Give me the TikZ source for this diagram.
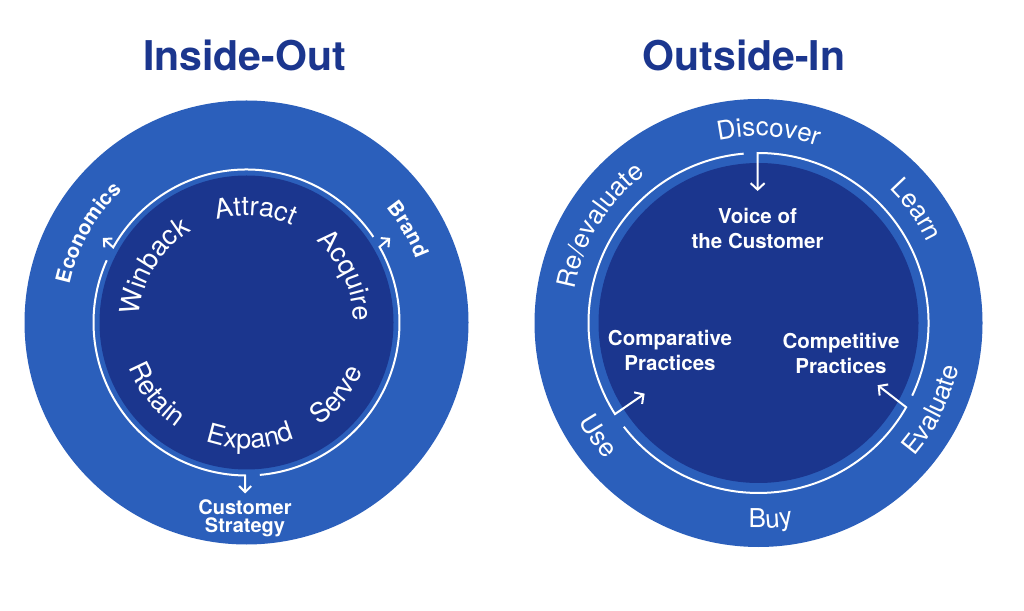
\documentclass[tikz,border=0pt]{standalone}
\usepackage{fontspec}
\setmainfont{TeX Gyre Heros}
\usetikzlibrary{decorations.text,arrows.meta}
\definecolor{ringblue}{RGB}{43,95,187}
\definecolor{coreblue}{RGB}{27,54,142}
\definecolor{titleblue}{RGB}{27,54,142}
\newcommand{\ringfont}{\fontsize{26}{30}\selectfont}
\newcommand{\corefont}{\fontsize{27}{30}\selectfont}
\newcommand{\lblfont}{\bfseries\fontsize{20.5}{22}\selectfont}
% text read clockwise, letter tops outward
\newcommand{\cwtext}[5]{\path[decorate,decoration={text along path,text align=center,text={|#5\color{white}|#4}}]
  (#1) ++({#2+80}:#3pt) arc[start angle={#2+80},end angle={#2-80},radius=#3pt];}
% text read counter-clockwise, letter tops inward
\newcommand{\ccwtext}[5]{\path[decorate,decoration={text along path,text align=center,text={|#5\color{white}|#4}}]
  (#1) ++({#2-80}:#3pt) arc[start angle={#2-80},end angle={#2+80},radius=#3pt];}
\tikzset{
  wline/.style={white,line width=2pt},
  warrowS/.style={wline,-{Straight Barb[length=6pt,width=12pt]}},
  warrowL/.style={wline,-{Straight Barb[length=6.5pt,width=14pt]}},
  title/.style={text=titleblue,font=\bfseries\fontsize{41}{45}\selectfont,inner sep=0pt},
  boldlbl/.style={text=white,align=center,inner sep=0pt,font=\bfseries\fontsize{20.5}{25}\selectfont},
}
\begin{document}
\begin{tikzpicture}[x=1pt,y=1pt]
\useasboundingbox[fill=white] (0,0) rectangle (1024,610);
\coordinate (L) at (246.5,287.5);
\coordinate (R) at (758.5,287);
% titles
\node[title,anchor=base] (tin) at (244.5,539.3) {Inside-Out};
\node[title,anchor=base] (tout) at (744,539.3) {Outside-In};
% ---------------- Inside-Out ----------------
\fill[ringblue] (L) circle[radius=222pt];
\fill[coreblue] (L) circle[radius=147pt];
\draw[warrowS] (L) ++(-85:153pt) arc[start angle=-85,end angle=29.6,radius=153pt] -- ++(40:14pt);
\draw[warrowS] (L) ++(34:153pt) arc[start angle=34,end angle=150.6,radius=153pt] -- ++(138:14pt);
\draw[warrowS] (L) ++(156:153pt) arc[start angle=156,end angle=269.5,radius=153pt] -- ++(270:18pt);
\cwtext{L}{85.4}{107}{Attract}{\corefont}
\cwtext{L}{25}{107}{Acquire}{\corefont}
\cwtext{L}{148.8}{107}{Winback}{\corefont}
\ccwtext{L}{-38.8}{126}{Serve}{\corefont}
\ccwtext{L}{-88.2}{126}{Expand}{\corefont}
\ccwtext{L}{218.7}{126}{Retain}{\corefont}
\cwtext{L}{150.5}{181}{Economics}{\lblfont}
\cwtext{L}{30}{181}{Brand}{\lblfont}
\node[text=white,align=center,inner sep=0pt,font=\bfseries\fontsize{20}{18.5}\selectfont] (cs) at (245,91.5) {Customer\\Strategy};
% ---------------- Outside-In ----------------
\fill[ringblue] (R) circle[radius=224pt];
\fill[coreblue] (R) circle[radius=160pt];
\draw[warrowL] (R) ++(95:170pt) arc[start angle=95,end angle=212.4,radius=170pt] -- ++(34.5:36pt);
\draw[warrowL] (R) ++(217.6:170pt) arc[start angle=217.6,end angle=330.3,radius=170pt] -- ++(142.3:36pt);
\draw[warrowL] (R) ++(-25.3:170pt) arc[start angle=-25.3,end angle=90.3,radius=170pt] -- ++(270:38pt);
\cwtext{R}{86.9}{187}{Discover}{\ringfont}
\cwtext{R}{35.6}{187}{Learn}{\ringfont}
\cwtext{R}{148.5}{187}{Re/evaluate}{\ringfont}
\ccwtext{R}{-26.6}{205}{Evaluate}{\ringfont}
\ccwtext{R}{-86.5}{205}{Buy}{\ringfont}
\ccwtext{R}{215.2}{205}{Use}{\ringfont}
\node[boldlbl] (voc) at (757.5,382) {Voice of\\the Customer};
\node[boldlbl] (cmp) at (670,259.2) {Comparative\\Practices};
\node[boldlbl] (cpt) at (841,256.7) {Competitive\\Practices};
\end{tikzpicture}
\end{document}
